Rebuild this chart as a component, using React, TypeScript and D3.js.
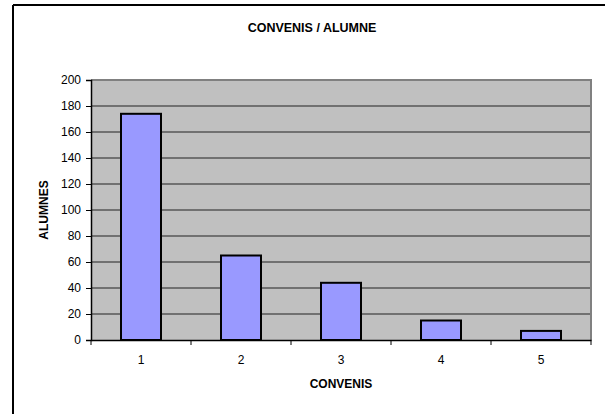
import React, { useRef, useEffect } from "react";
import * as d3 from "d3";

const categories = ["1", "2", "3", "4", "5"];
const values = [174, 65, 44, 15, 7];
const yTicks = [0, 20, 40, 60, 80, 100, 120, 140, 160, 180, 200];

const width = 605;
const height = 414;
const plot = { left: 91, right: 591, top: 80, bottom: 340 };

const App: React.FC = () => {
  const svgRef = useRef<SVGSVGElement | null>(null);

  useEffect(() => {
    if (!svgRef.current) return;
    const svg = d3.select(svgRef.current);
    svg.selectAll("*").remove();

    const x = d3.scaleBand().domain(categories).range([plot.left, plot.right]);
    const y = d3.scaleLinear().domain([0, 200]).range([plot.bottom, plot.top]);
    const font = "Arial, 'Liberation Sans', sans-serif";

    // outer chart border (top and left only visible)
    svg.append("line").attr("x1", 13).attr("x2", width).attr("y1", 5).attr("y2", 5)
      .attr("stroke", "#000").attr("stroke-width", 2);
    svg.append("line").attr("x1", 13).attr("x2", 13).attr("y1", 5).attr("y2", height)
      .attr("stroke", "#000").attr("stroke-width", 2);

    // plot area
    svg.append("rect")
      .attr("x", plot.left).attr("y", plot.top)
      .attr("width", plot.right - plot.left).attr("height", plot.bottom - plot.top)
      .attr("fill", "#C0C0C0");

    // gridlines
    svg.selectAll(".grid").data(yTicks.slice(1, -1)).enter().append("line")
      .attr("x1", plot.left).attr("x2", plot.right)
      .attr("y1", (d) => y(d)).attr("y2", (d) => y(d))
      .attr("stroke", "#222").attr("stroke-width", 1);

    // plot border top/right
    svg.append("path")
      .attr("d", `M${plot.left},${plot.top}H${plot.right}V${plot.bottom}`)
      .attr("fill", "none").attr("stroke", "#808080").attr("stroke-width", 2);

    // bars
    svg.selectAll(".bar").data(values).enter().append("rect")
      .attr("x", (_, i) => x(categories[i])! + x.bandwidth() * 0.3)
      .attr("y", (d) => y(d))
      .attr("width", x.bandwidth() * 0.4)
      .attr("height", (d) => plot.bottom - y(d))
      .attr("fill", "#9999FF").attr("stroke", "#000").attr("stroke-width", 2);

    // y axis
    const yAxis = svg.append("g")
      .attr("transform", `translate(${plot.left},0)`)
      .call(d3.axisLeft(y).tickValues(yTicks).tickSize(5).tickPadding(5));
    yAxis.select(".domain").attr("stroke", "#000").attr("stroke-width", 1.5);
    yAxis.selectAll(".tick line").attr("stroke", "#000");
    yAxis.selectAll("text").attr("font-family", font).attr("font-size", 12).attr("fill", "#000");

    // x axis
    const xAxis = svg.append("g")
      .attr("transform", `translate(0,${plot.bottom})`)
      .call(d3.axisBottom(x).tickSize(0).tickPadding(15));
    xAxis.select(".domain").attr("stroke", "#000").attr("stroke-width", 1.5);
    xAxis.selectAll("text").attr("font-family", font).attr("font-size", 12).attr("fill", "#000");
    svg.selectAll(".xtick").data(d3.range(categories.length + 1)).enter().append("line")
      .attr("x1", (i) => plot.left + i * x.step()).attr("x2", (i) => plot.left + i * x.step())
      .attr("y1", plot.bottom).attr("y2", plot.bottom + 5)
      .attr("stroke", "#000");

    // titles
    svg.append("text").attr("x", 312).attr("y", 32).attr("text-anchor", "middle")
      .attr("font-family", font).attr("font-weight", "bold").attr("font-size", 12.5)
      .text("CONVENIS / ALUMNE");
    svg.append("text").attr("x", (plot.left + plot.right) / 2).attr("y", 388).attr("text-anchor", "middle")
      .attr("font-family", font).attr("font-weight", "bold").attr("font-size", 12)
      .text("CONVENIS");
    svg.append("text")
      .attr("transform", `translate(48,${(plot.top + plot.bottom) / 2}) rotate(-90)`)
      .attr("text-anchor", "middle")
      .attr("font-family", font).attr("font-weight", "bold").attr("font-size", 12)
      .text("ALUMNES");
  }, []);

  return (
    <svg ref={svgRef} width={width} height={height}
      style={{ display: "block", position: "absolute", left: 0, top: 0, background: "#fff" }} />
  );
};

export default App;
